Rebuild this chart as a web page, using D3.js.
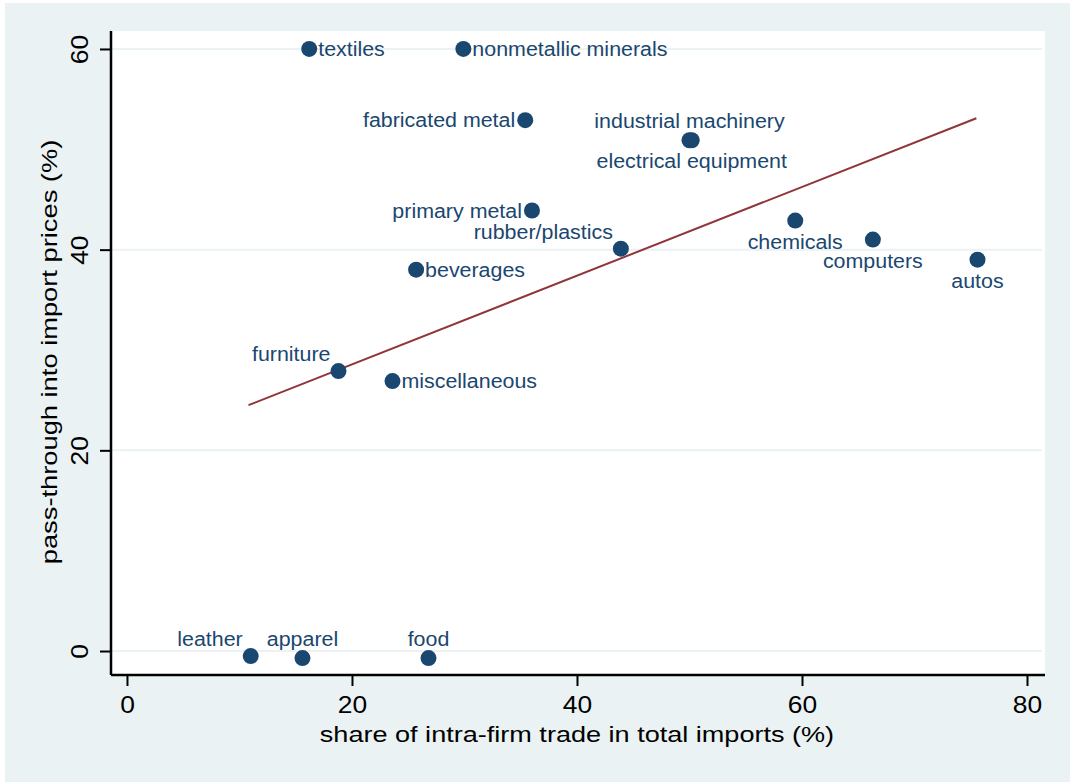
<!DOCTYPE html>
<html>
<head>
<meta charset="utf-8">
<script src="https://cdn.jsdelivr.net/npm/d3@7"></script>
<style>
  body { margin: 0; background: #fff; }
  text { font-family: "Liberation Sans", Arial, sans-serif; }
</style>
</head>
<body>
<svg id="chart" width="1073" height="782"></svg>
<script>
// industries and their values
let industries = ["textiles", "nonmetallic minerals", "fabricated metal", "industrial machinery",
    "electrical equipment", "primary metal", "rubber/plastics", "beverages", "chemicals",
    "computers", "autos", "furniture", "miscellaneous", "leather", "apparel", "food"];
let intraFirmShare = [16.2, 29.9, 35.4, 50.0, 50.2, 36.0, 43.9, 25.7, 59.4, 66.3, 75.6, 18.8, 23.6, 11.0, 15.6, 26.8];
let passThrough = [60.0, 60.0, 52.9, 50.9, 50.9, 43.9, 40.1, 38.0, 42.9, 41.0, 39.0, 27.9, 26.9, -0.5, -0.7, -0.7];

// fitted line endpoints
let fitX = [10.8, 75.5];
let fitY = [24.5, 53.1];

let xTicks = [0, 20, 40, 60, 80];
let yTicks = [0, 20, 40, 60];

// where each marker label sits (stata clock position)
let labelClock = {
    "textiles": 3, "nonmetallic minerals": 3, "fabricated metal": 9, "industrial machinery": 12,
    "electrical equipment": 6, "primary metal": 9, "rubber/plastics": 11, "beverages": 3,
    "chemicals": 6, "computers": 6, "autos": 6, "furniture": 11, "miscellaneous": 3,
    "leather": 11, "apparel": 12, "food": 12
};

let navy = "#1a476f";
let maroon = "#90353b";
let bg = "#eaf2f3";

let svg = d3.select("#chart");

let plot = {left: 111, right: 1045, top: 31, bottom: 675};

let xMap = d3.scaleLinear().domain([-1.42, 81.6]).range([plot.left, plot.right]);
let yMap = d3.scaleLinear().domain([-2.39, 61.79]).range([plot.bottom, plot.top]);

// stata's export draws text a bit wider than the font does
function stretch(sel, k) {
    sel.each(function() {
        let w = this.getComputedTextLength();
        d3.select(this).attr("textLength", w * k).attr("lengthAdjust", "spacingAndGlyphs");
    });
}

// graph region
svg.append("rect").attr("x", 5).attr("y", 3).attr("width", 1065).attr("height", 779).attr("fill", bg);
svg.append("rect").attr("x", plot.left).attr("y", plot.top)
    .attr("width", plot.right - plot.left).attr("height", plot.bottom - plot.top).attr("fill", "#fff");

// grid
svg.append("g").selectAll("line").data(yTicks).enter().append("line")
    .attr("x1", plot.left).attr("x2", plot.right - 3)
    .attr("y1", d => yMap(d)).attr("y2", d => yMap(d))
    .attr("stroke", bg).attr("stroke-width", 2);

// axes
let xAxis = d3.axisBottom(xMap).tickValues(xTicks).tickSize(11).tickPadding(10).tickFormat(d3.format("d"));
let gx = svg.append("g").attr("transform", `translate(0,${plot.bottom})`).call(xAxis);
gx.select(".domain").attr("d", `M${plot.left},0H${plot.right}`).attr("stroke-width", 2.5);
gx.selectAll(".tick line").attr("stroke-width", 2);
gx.selectAll(".tick text").attr("font-size", 24).attr("fill", "#000")
    .attr("font-family", "Liberation Sans, Arial, sans-serif");
stretch(gx.selectAll(".tick text"), 1.1);

let yAxis = d3.axisLeft(yMap).tickValues(yTicks).tickSize(11).tickPadding(0).tickFormat(d3.format("d"));
let gy = svg.append("g").attr("transform", `translate(${plot.left},0)`).call(yAxis);
gy.select(".domain").attr("d", `M0,${plot.top}V${plot.bottom}`).attr("stroke-width", 2.5);
gy.selectAll(".tick line").attr("stroke-width", 2);
gy.selectAll(".tick text").attr("font-size", 24).attr("fill", "#000")
    .attr("font-family", "Liberation Sans, Arial, sans-serif")
    .attr("text-anchor", "middle").attr("dy", null)
    .attr("x", null)
    .attr("transform", "translate(-32,0) rotate(-90)")
    .attr("y", 0).attr("dominant-baseline", "central");
stretch(gy.selectAll(".tick text"), 1.1);

// axis titles
let xt = svg.append("text").attr("x", 577).attr("y", 742).attr("text-anchor", "middle")
    .attr("font-size", 22).attr("fill", "#000")
    .text("share of intra-firm trade in total imports (%)");
let yt = svg.append("text").attr("transform", "translate(57,352) rotate(-90)").attr("text-anchor", "middle")
    .attr("font-size", 22).attr("fill", "#000")
    .text("pass-through into import prices (%)");
stretch(xt, 1.23);
stretch(yt, 1.24);

// fit line
svg.append("line")
    .attr("x1", xMap(fitX[0])).attr("y1", yMap(fitY[0]))
    .attr("x2", xMap(fitX[1])).attr("y2", yMap(fitY[1]))
    .attr("stroke", maroon).attr("stroke-width", 2);

let pts = industries.map((n, i) => ({name: n, x: intraFirmShare[i], y: passThrough[i]}));

svg.append("g").selectAll("circle").data(pts).enter().append("circle")
    .attr("cx", d => xMap(d.x)).attr("cy", d => yMap(d.y)).attr("r", 8)
    .attr("fill", navy);

// marker labels
function labelOffset(c) {
    if (c === 3) return {dx: 9, dy: 7, anchor: "start"};
    if (c === 9) return {dx: -10, dy: 7, anchor: "end"};
    if (c === 12) return {dx: 0, dy: -12, anchor: "middle"};
    if (c === 6) return {dx: 0, dy: 28, anchor: "middle"};
    return {dx: -8, dy: -10, anchor: "end"};
}
let labels = svg.append("g").selectAll("text").data(pts).enter().append("text")
    .each(function(d) {
        let o = labelOffset(labelClock[d.name]);
        d3.select(this).attr("x", xMap(d.x) + o.dx).attr("y", yMap(d.y) + o.dy)
            .attr("text-anchor", o.anchor);
    })
    .attr("font-size", 20).attr("fill", navy)
    .text(d => d.name);
stretch(labels, 1.07);
</script>
</body>
</html>
